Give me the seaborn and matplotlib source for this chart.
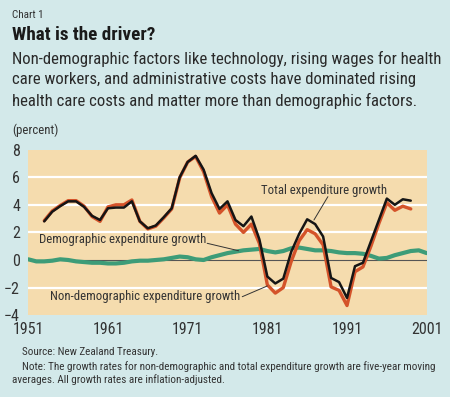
import numpy as np
import pandas as pd
import seaborn as sns
import matplotlib.pyplot as plt

# years and series (percent)
years_total = list(range(1953, 2000))
total_growth = [2.8, 3.5, 3.9, 4.25, 4.25, 3.85, 3.2, 2.9, 3.75, 3.8,
                3.8, 4.25, 2.8, 2.3, 2.5, 3.1, 3.75, 6.0, 7.1, 7.55,
                6.55, 4.85, 3.7, 4.25, 2.9, 2.45, 3.15, 1.5, -1.2, -1.7,
                -1.35, 0.6, 1.9, 2.95, 2.6, 1.7, -1.3, -1.6, -2.75, -0.45,
                -0.2, 1.35, 2.9, 4.45, 4.0, 4.4, 4.3]
nondemo_growth = [2.85, 3.55, 3.95, 4.3, 4.3, 3.9, 3.15, 2.8, 3.85, 4.0,
                  4.0, 4.35, 2.8, 2.25, 2.45, 3.05, 3.7, 5.95, 7.1, 7.5,
                  6.4, 4.6, 3.4, 4.0, 2.6, 2.0, 2.6, 1.2, -1.8, -2.4,
                  -2.0, -0.1, 1.4, 2.2, 1.9, 1.1, -1.95, -2.2, -3.3, -0.85,
                  -0.5, 1.0, 2.65, 4.15, 3.6, 3.9, 3.7]
years_demo = list(range(1951, 2002))
demo_growth = [0.05, -0.1, -0.1, -0.05, 0.05, 0.0, -0.1, -0.15, -0.2, -0.2,
               -0.25, -0.25, -0.2, -0.1, -0.05, -0.05, 0.0, 0.05, 0.15, 0.25,
               0.2, 0.05, 0.0, 0.2, 0.35, 0.5, 0.6, 0.7, 0.75, 0.8,
               0.65, 0.55, 0.65, 0.85, 0.9, 0.8, 0.7, 0.7, 0.65, 0.55,
               0.5, 0.5, 0.45, 0.3, 0.1, 0.15, 0.35, 0.5, 0.65, 0.7, 0.5]
x_ticks = [1951, 1961, 1971, 1981, 1991, 2001]
y_ticks = [-4, -2, 0, 2, 4, 6, 8]

df_total = pd.DataFrame({"year": years_total, "total": total_growth, "nondemo": nondemo_growth})
df_demo = pd.DataFrame({"year": years_demo, "demo": demo_growth})

sns.set_style("white")
plt.rcParams["font.family"] = ["Roboto Condensed", "DejaVu Sans"]

W, H = 450, 397
bg = "#d3e9ea"
fig = plt.figure(figsize=(W / 100, H / 100), dpi=100, facecolor=bg)

def fx(px):
    return px / W

def fy(py):
    return 1 - py / H

ax = fig.add_axes([fx(28.3), fy(315.2), fx(426.7) - fx(28.3), fy(149.6) - fy(315.2)])
ax.set_facecolor("#f5dcae")

for v in [-2, 2, 4, 6]:
    ax.axhline(v, color="white", lw=1.6, zorder=1)
ax.axhline(0, color="#555555", lw=0.8, zorder=1)

sns.lineplot(data=df_demo, x="year", y="demo", ax=ax, color="#3d9c78", lw=3.0, zorder=2)
sns.lineplot(data=df_total, x="year", y="nondemo", ax=ax, color="#d4532a", lw=2.4, zorder=3)
sns.lineplot(data=df_total, x="year", y="total", ax=ax, color="#151515", lw=1.8, zorder=4)

ax.set_xlim(1951, 2001)
ax.set_ylim(-4, 8)
ax.set_xticks(x_ticks)
ax.set_yticks(y_ticks)
ax.set_xlabel("")
ax.set_ylabel("")
for s in ax.spines.values():
    s.set_visible(False)
ax.tick_params(axis="x", direction="in", length=3, width=1, color="#333333",
               labelsize=11.5, labelcolor="#333333", pad=5)
ax.tick_params(axis="y", length=0, labelsize=11.5, labelcolor="#333333", pad=6)

# annotations
tc = "#333333"
ax.text(1988.1, 5.07, "Total expenditure growth", ha="center", va="center", fontsize=9.2, color=tc)
ax.plot([1988.6, 1986.85], [4.59, 2.9], color="#333333", lw=0.7, zorder=5)
ax.text(1952.3, 1.45, "Demographic expenditure growth", ha="left", va="center", fontsize=9.2, color=tc)
ax.plot([1973.45, 1977.4], [1.21, 0.67], color="#333333", lw=0.7, zorder=5)
ax.text(1953.7, -2.66, "Non-demographic expenditure growth", ha="left", va="center", fontsize=9.2, color=tc)
ax.plot([1977.85, 1981.0], [-2.66, -1.88], color="#333333", lw=0.7, zorder=5)

# titles and notes
fig.text(fx(12), fy(15), "Chart 1", fontsize=8, color=tc, va="center")
fig.text(fx(12), fy(35), "What is the driver?", fontsize=13.8, fontweight="bold", color="#1a1a1a", va="center")
sub = ["Non-demographic factors like technology, rising wages for health",
       "care workers, and administrative costs have dominated rising",
       "health care costs and matter more than demographic factors."]
for i, line in enumerate(sub):
    fig.text(fx(12), fy(58.5 + i * 21), line, fontsize=12.1, color="#2a2a2a", va="center")
fig.text(fx(12), fy(130), "(percent)", fontsize=9.2, color=tc, va="center")

fig.text(fx(21.5), fy(352), "Source: New Zealand Treasury.", fontsize=8, color=tc, va="center")
fig.text(fx(21.5), fy(366.5), "Note: The growth rates for non-demographic and total expenditure growth are five-year moving",
         fontsize=8, color=tc, va="center")
fig.text(fx(12), fy(379.5), "averages. All growth rates are inflation-adjusted.", fontsize=8, color=tc, va="center")

fig.savefig("out.png", dpi=100, facecolor=bg)
